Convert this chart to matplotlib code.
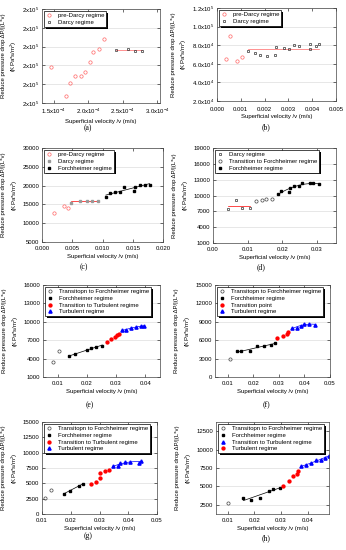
import numpy as np
import matplotlib
matplotlib.use('Agg')
import matplotlib.pyplot as plt
import matplotlib.patheffects as pe

plt.rcParams['font.family'] = ['Liberation Sans', 'DejaVu Sans']
plt.rcParams['mathtext.fontset'] = 'custom'
plt.rcParams['mathtext.rm'] = 'Liberation Sans'
plt.rcParams['mathtext.it'] = 'Liberation Sans:italic'
plt.rcParams['font.size'] = 4.3

# (a)
a_pre_x = [1.467e-4, 1.671e-4, 1.729e-4, 1.814e-4, 1.895e-4, 1.957e-4, 2.024e-4, 2.076e-4, 2.162e-4, 2.224e-4]
a_pre_y = [1.880e5, 1.578e5, 1.712e5, 1.787e5, 1.787e5, 1.826e5, 1.934e5, 2.041e5, 2.077e5, 2.177e5]
a_darcy_x = [2.405e-4, 2.571e-4, 2.681e-4, 2.786e-4]
a_darcy_y = [2.059e5, 2.070e5, 2.052e5, 2.055e5]
a_xticks = [1.5e-4, 2.0e-4, 2.5e-4, 3.0e-4]
a_xlabels = ['1.5x10$^{-4}$', '2.0x10$^{-4}$', '2.5x10$^{-4}$', '3.0x10$^{-4}$']
a_yticks = [1.5e5, 1.7e5, 1.9e5, 2.1e5, 2.3e5, 2.5e5]
a_ylabels = ['2x10$^5$'] * 6

# (b)
b_pre_x = [0.00039, 0.00053, 0.00086, 0.00103]
b_pre_y = [6.55e4, 9.0e4, 6.26e4, 6.73e4]
b_darcy_x = [0.00131, 0.00158, 0.0018, 0.00208, 0.00245, 0.00247, 0.0028, 0.00303,
             0.00322, 0.00345, 0.00389, 0.00392, 0.00417, 0.00429]
b_darcy_y = [7.40e4, 7.11e4, 6.97e4, 6.79e4, 6.97e4, 7.80e4, 7.65e4, 7.58e4,
             8.01e4, 7.90e4, 7.58e4, 8.08e4, 7.90e4, 8.08e4]
b_xticks = [0.0, 0.001, 0.002, 0.003, 0.004, 0.005]
b_yticks = [2e4, 4e4, 6e4, 8e4, 1e5, 1.2e5]
b_ylabels = ['2.0x10$^4$', '4.0x10$^4$', '6.0x10$^4$', '8.0x10$^4$', '1.0x10$^5$', '1.2x10$^5$']

# (c)
c_pre_x = [0.00206, 0.0037, 0.00437]
c_pre_y = [12700, 14500, 14100]
c_darcy_x = [0.00472, 0.00628, 0.00739, 0.00833, 0.00928]
c_darcy_y = [15300, 15950, 15950, 15850, 15950]
c_forch_x = [0.01056, 0.01117, 0.01211, 0.01294, 0.01361, 0.01528, 0.01539, 0.01617, 0.01706, 0.01778]
c_forch_y = [16870, 18040, 18310, 18310, 19660, 18490, 19660, 20290, 20290, 20290]

# (d)
d_darcy_x = [0.00437, 0.0065, 0.00845, 0.01058]
d_darcy_y = [7510, 9110, 7640, 7700]
d_trans_x = [0.01252, 0.01408, 0.01524, 0.01699]
d_trans_y = [8980, 9170, 9430, 9430]
d_forch_x = [0.01864, 0.01971, 0.02184, 0.02223, 0.0235, 0.02476, 0.02573, 0.02786, 0.02883, 0.03049]
d_forch_y = [10190, 10830, 10700, 11340, 11850, 11850, 12300, 12300, 12360, 12110]

# (e)
e_trans_x = [0.0085, 0.0105]
e_trans_y = [3490, 5160]
e_forch_x = [0.01375, 0.01603, 0.02002, 0.02151, 0.02309, 0.02525]
e_forch_y = [4350, 4780, 5380, 5700, 5970, 6080]
e_tt_x = [0.02685, 0.02833, 0.02969, 0.03038, 0.03085]
e_tt_y = [6780, 7270, 7600, 7870, 8030]
e_turb_x = [0.03198, 0.03347, 0.03518, 0.03688, 0.03859, 0.0395]
e_turb_y = [8620, 8680, 8950, 9220, 9320, 9320]

# (f)
f_trans_x = [0.01087]
f_trans_y = [2860]
f_forch_x = [0.01349, 0.01517, 0.0187, 0.02156, 0.0243, 0.0268, 0.02848]
f_forch_y = [4160, 4160, 4210, 5020, 5130, 5230, 5500]
f_tp_x = [0.02913, 0.03148, 0.03317, 0.03369]
f_tp_y = [6370, 6750, 7010, 7280]
f_turb_x = [0.03526, 0.03697, 0.03865, 0.03995, 0.04178, 0.04413]
f_turb_y = [7990, 8040, 8310, 8630, 8690, 8530]

# (g)
g_trans_x = [0.01093, 0.01313]
g_trans_y = [2590, 3940]
g_forch_x = [0.01754, 0.01962, 0.02275, 0.02426]
g_forch_y = [3290, 3780, 4590, 4910]
g_tt_x = [0.02704, 0.0289, 0.03006, 0.03029, 0.0318, 0.03331]
g_tt_y = [4910, 5180, 5940, 6640, 7070, 7180]
g_turb_x = [0.0347, 0.03632, 0.03725, 0.03899, 0.04072, 0.04362, 0.04443]
g_turb_y = [7820, 7820, 8260, 8470, 8470, 8360, 8690]

# (h)
h_trans_x = [0.01025]
h_trans_y = [2770]
h_forch_x = [0.01588, 0.01863, 0.02213, 0.0255, 0.02688, 0.02963]
h_forch_y = [3400, 3220, 3450, 4350, 4660, 4840]
h_tt_x = [0.03738, 0.03925, 0.04113, 0.04313, 0.045, 0.0465, 0.04788]
h_tt_y = [7730, 7860, 8180, 8540, 8630, 8900, 9170]
h_turb_x = [0.03088, 0.03313, 0.03438, 0.03613, 0.03638]
h_turb_y = [5020, 5740, 6370, 6640, 7050]

W, H = 346, 550
fig = plt.figure(figsize=(W / 100, H / 100), dpi=100)

YLAB = 'Reduce pressure drop \u0394P/|(L*v)\n(KPa*s/m$^2$)'
XLAB = 'Superficial velocity /v (m/s)'
PINK = '#ff6666'


def make_ax(l, t, r, b):
    ax = fig.add_axes([l / W, 1 - b / H, (r - l) / W, (b - t) / H])
    ax.tick_params(direction='in', length=2, width=0.4, top=True, right=True, pad=2, labelsize=4.3)
    ax.tick_params(axis='x', pad=3)
    for s in ax.spines.values():
        s.set_linewidth(0.5)
        s.set_color('#444444')
    ax.yaxis.grid(True, color='#dddddd', lw=0.5)
    ax.set_axisbelow(True)
    ax.set_ylabel(YLAB, fontsize=4.3, labelpad=2, linespacing=1.4)
    ax.set_xlabel(XLAB, fontsize=4.3, labelpad=2)
    return ax


def fit(ax, x, y, deg, color):
    p = np.polyfit(x, y, deg)
    xs = np.linspace(min(x), max(x), 50)
    ax.plot(xs, np.polyval(p, xs), color=color, lw=0.5, zorder=1)


def legend(ax):
    leg = ax.legend(loc='upper left', bbox_to_anchor=(0.0, 1.0), borderaxespad=0.4, fontsize=4.3,
                    frameon=True, fancybox=False, edgecolor='black', framealpha=1,
                    handlelength=1.0, handletextpad=1.0, labelspacing=0.25, borderpad=0.3)
    leg.get_frame().set_linewidth(0.5)
    leg.get_frame().set_path_effects([
        pe.withSimplePatchShadow(offset=(1.3, -1.3), shadow_rgbFace='black', alpha=1.0)])


def caption(x, y, s):
    fig.text(x / W, 1 - y / H, s, ha='center', va='center', fontsize=5.5, family='Liberation Serif')


open_red = dict(ls='none', marker='o', ms=2.4, mfc='none', mec=PINK, mew=0.5)
open_sq = dict(ls='none', marker='s', ms=2.1, mfc='none', mec='#333333', mew=0.5)
open_circ = dict(ls='none', marker='o', ms=2.3, mfc='none', mec='#444444', mew=0.5)
black_sq = dict(ls='none', marker='s', ms=1.8, color='black')
red_dot = dict(ls='none', marker='o', ms=2.1, color='red')
blue_tri = dict(ls='none', marker='^', ms=2.3, color='blue')

# (a)
ax = make_ax(42, 9, 160, 103)
fit(ax, a_darcy_x, a_darcy_y, 0, PINK)
ax.plot(a_pre_x, a_pre_y, label='pre-Darcy regime', **open_red)
ax.plot(a_darcy_x, a_darcy_y, label='Darcy regime', **open_sq)
ax.set_xlim(1.33e-4, 3.04e-4)
ax.set_ylim(1.5e5, 2.5e5)
ax.set_xticks(a_xticks, a_xlabels)
ax.set_yticks(a_yticks, a_ylabels)
legend(ax)
caption(88, 128, '(a)')

# (b)
ax = make_ax(217, 8, 336, 101)
fit(ax, b_darcy_x, b_darcy_y, 0, PINK)
ax.plot(b_pre_x, b_pre_y, label='pre-Darcy regime', **open_red)
ax.plot(b_darcy_x, b_darcy_y, label='Darcy regime', **open_sq)
ax.set_xlim(0, 0.005)
ax.set_ylim(2e4, 1.2e5)
ax.set_xticks(b_xticks, ['%.3f' % v for v in b_xticks])
ax.set_yticks(b_yticks, b_ylabels)
ax.tick_params(axis='x', pad=4)
legend(ax)
caption(266, 127, '(b)')

# (c)
ax = make_ax(42, 148, 163, 242)
fit(ax, c_darcy_x, c_darcy_y, 0, 'red')
fit(ax, c_forch_x, c_forch_y, 1, 'black')
ax.plot(c_pre_x, c_pre_y, label='pre-Darcy regime', **open_red)
ax.plot(c_darcy_x, c_darcy_y, ls='none', marker='s', ms=1.8, color='#999999', label='Darcy regime')
ax.plot(c_forch_x, c_forch_y, label='Forchheimer regime', **black_sq)
ax.set_xlim(0, 0.02)
ax.set_ylim(5000, 30000)
ax.set_xticks([0, 0.005, 0.01, 0.015, 0.02], ['0.000', '0.005', '0.010', '0.015', '0.020'])
ax.set_yticks([5000, 10000, 15000, 20000, 25000, 30000])
legend(ax)
caption(84, 267, '(c)')

# (d)
ax = make_ax(213, 148, 336, 243)
fit(ax, d_darcy_x, d_darcy_y, 0, 'red')
fit(ax, d_forch_x, d_forch_y, 2, 'black')
ax.plot(d_darcy_x, d_darcy_y, label='Darcy regime', **open_sq)
ax.plot(d_trans_x, d_trans_y, label='Transition to Forchheimer regime', **open_circ)
ax.plot(d_forch_x, d_forch_y, label='Forchheimer regime', **black_sq)
ax.set_xlim(0, 0.0355)
ax.set_ylim(1000, 19000)
ax.set_xticks([0, 0.01, 0.02, 0.03], ['0.00', '0.01', '0.02', '0.03'])
ax.set_yticks([1000, 4000, 7000, 10000, 13000, 16000, 19000])
legend(ax)
caption(261, 267, '(d)')

# (e)
ax = make_ax(43, 285, 160, 377)
fit(ax, e_forch_x, e_forch_y, 1, 'black')
fit(ax, e_turb_x, e_turb_y, 2, 'blue')
ax.plot(e_trans_x, e_trans_y, label='Transitopn to Forchheimer regime', **open_circ)
ax.plot(e_forch_x, e_forch_y, label='Forchheimer regime', **black_sq)
ax.plot(e_tt_x, e_tt_y, label='Transition to Turbulent regime', **red_dot)
ax.plot(e_turb_x, e_turb_y, label='Turbulent regime', **blue_tri)
ax.set_xlim(0.005, 0.045)
ax.set_ylim(1000, 16000)
ax.set_xticks([0.01, 0.02, 0.03, 0.04], ['0.01', '0.02', '0.03', '0.04'])
ax.set_yticks([1000, 4000, 7000, 10000, 13000, 16000])
legend(ax)
caption(90, 405, '(e)')

# (f)
ax = make_ax(215, 285, 330, 377)
fit(ax, f_forch_x, f_forch_y, 1, 'black')
fit(ax, f_turb_x, f_turb_y, 2, 'blue')
ax.plot(f_trans_x, f_trans_y, label='Transitopn to Forchheimer regime', **open_circ)
ax.plot(f_forch_x, f_forch_y, label='Forchheimer regime', **black_sq)
ax.plot(f_tp_x, f_tp_y, label='Transition point', **red_dot)
ax.plot(f_turb_x, f_turb_y, label='Turbulent regime', **blue_tri)
ax.set_xlim(0.005, 0.05)
ax.set_ylim(0, 15000)
ax.set_xticks([0.01, 0.02, 0.03, 0.04, 0.05], ['0.01', '0.02', '0.03', '0.04', '0.05'])
ax.set_yticks([0, 3000, 6000, 9000, 12000, 15000])
legend(ax)
caption(266, 405, '(f)')

# (g)
ax = make_ax(42, 422, 157, 514)
fit(ax, g_forch_x, g_forch_y, 1, 'black')
fit(ax, g_turb_x, g_turb_y, 2, 'blue')
ax.plot(g_trans_x, g_trans_y, label='Transitopn to Forchheimer regime', **open_circ)
ax.plot(g_forch_x, g_forch_y, label='Forchheimer regime', **black_sq)
ax.plot(g_tt_x, g_tt_y, label='Transition to Turbulent regime', **red_dot)
ax.plot(g_turb_x, g_turb_y, label='Turbulent regime', **blue_tri)
ax.set_xlim(0.01, 0.05)
ax.set_ylim(0, 15000)
ax.set_xticks([0.01, 0.02, 0.03, 0.04, 0.05], ['0.01', '0.02', '0.03', '0.04', '0.05'])
ax.set_yticks([0, 2500, 5000, 7500, 10000, 12500, 15000])
legend(ax)
caption(88, 536, '(g)')

# (h)
ax = make_ax(216, 422, 329, 514)
fit(ax, h_forch_x, h_forch_y, 1, 'black')
fit(ax, h_tt_x, h_tt_y, 2, 'blue')
ax.plot(h_trans_x, h_trans_y, label='Transitopn to Forchheimer regime', **open_circ)
ax.plot(h_forch_x, h_forch_y, label='Forchheimer regime', **black_sq)
ax.plot(h_tt_x, h_tt_y, label='Transition to Turbulent regime', **blue_tri)
ax.plot(h_turb_x, h_turb_y, label='Turbulent regime', **red_dot)
ax.set_xlim(0.0056, 0.048)
ax.set_ylim(1250, 13750)
ax.set_xticks([0.01, 0.02, 0.03, 0.04], ['0.01', '0.02', '0.03', '0.04'])
ax.set_yticks([2500, 5000, 7500, 10000, 12500])
legend(ax)
caption(266, 538, '(h)')

fig.savefig('out.png', dpi=100)
